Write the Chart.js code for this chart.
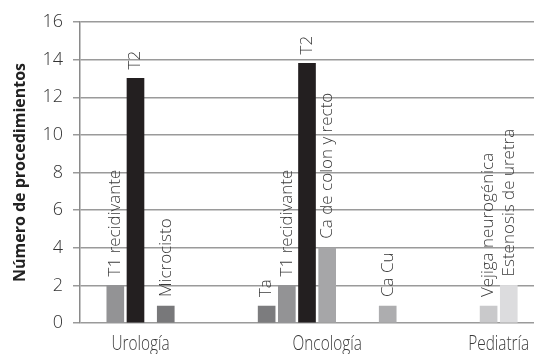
<!DOCTYPE html>
<html>
<head>
<meta charset="utf-8">
<script src="https://cdn.jsdelivr.net/npm/chart.js@4"></script>
<style>
  html, body { margin: 0; padding: 0; background: #fff; }
  #wrap { width: 534px; height: 354px; }
</style>
</head>
<body>
<div id="wrap"><canvas id="chartProc"></canvas></div>
<script>
// values
const groups = ['Urología', 'Oncología', 'Pediatría'];
const barGroup = [0, 0, 0, 1, 1, 1, 1, 1, 2, 2];
const barLabels = ['T1 recidivante', 'T2', 'Microcisto', 'Ta', 'T1 recidivante', 'T2',
  'Ca de colon y recto', 'Ca Cu', 'Vejiga neurogénica', 'Estenosis de uretra'];
const barValues = [2, 13, 0.9, 0.9, 2, 13.8, 4, 0.9, 0.9, 2];
const yTicks = [0, 2, 4, 6, 8, 10, 12, 14, 16];

// layout: the x axis is a row of narrow slots, each bar sits on one of them
const SLOTS = 45;
const barSlot = [3, 5, 8, 18, 20, 22, 24, 30, 40, 42];
const barColors = ['#939395', '#231f20', '#78787a', '#7c7c7e', '#939395', '#231f20',
  '#a6a6a8', '#adadaf', '#c9c9cb', '#dcdcde'];

const slotLabels = new Array(SLOTS).fill('');
const slotValues = new Array(SLOTS).fill(null);
const slotColors = new Array(SLOTS).fill('#000');
barSlot.forEach((s, i) => {
  slotLabels[s] = barLabels[i];
  slotValues[s] = barValues[i];
  slotColors[s] = barColors[i];
});

Chart.defaults.font.family = '"Open Sans", "DejaVu Sans", sans-serif';

// rotated names over the bars + group names under the axis
const barTextPlugin = {
  id: 'barText',
  afterDatasetsDraw(chart) {
    const ctx = chart.ctx;
    const meta = chart.getDatasetMeta(0);
    ctx.save();
    ctx.fillStyle = '#3a3a3a';
    ctx.font = '300 17px "Open Sans"';
    ctx.textAlign = 'left';
    ctx.textBaseline = 'middle';
    barSlot.forEach((s, i) => {
      const bar = meta.data[s];
      ctx.save();
      ctx.translate(bar.x, bar.y - 9);
      ctx.rotate(-Math.PI / 2);
      ctx.fillText(barLabels[i], 0, 0);
      ctx.restore();
    });

    ctx.font = '300 20px "Open Sans"';
    ctx.textAlign = 'center';
    ctx.textBaseline = 'alphabetic';
    groups.forEach((g, gi) => {
      const xs = barSlot.filter((s, i) => barGroup[i] === gi).map(s => meta.data[s].x);
      const cx = (Math.min(...xs) + Math.max(...xs)) / 2;
      ctx.save();
      ctx.translate(cx, 350);
      ctx.scale(0.77, 1);
      ctx.fillText(g, 0, 0);
      ctx.restore();
    });
    ctx.restore();
  }
};

new Chart(document.getElementById('chartProc'), {
  type: 'bar',
  data: {
    labels: slotLabels,
    datasets: [{
      data: slotValues,
      backgroundColor: slotColors,
      barThickness: 17
    }]
  },
  options: {
    responsive: true,
    maintainAspectRatio: false,
    animation: false,
    layout: { padding: { top: 22, bottom: 31, left: 0, right: 0 } },
    plugins: {
      legend: { display: false },
      tooltip: { enabled: false }
    },
    scales: {
      x: { display: false },
      y: {
        min: 0,
        max: 16,
        afterBuildTicks: (scale) => { scale.ticks = yTicks.map(v => ({ value: v })); },
        afterFit: (scale) => { scale.width = 80; },
        grid: { color: '#9a9a9a', lineWidth: 1.5, tickLength: 7 },
        border: { color: '#8a8a8a', width: 1.5 },
        ticks: {
          color: '#333',
          padding: 10,
          font: { size: 18, weight: '300' }
        },
        title: {
          display: true,
          text: 'Número de procedimientos',
          color: '#222',
          padding: { top: 11, bottom: 0 },
          font: { size: 16, weight: 'bold' }
        }
      }
    }
  },
  plugins: [barTextPlugin]
});
</script>
</body>
</html>
